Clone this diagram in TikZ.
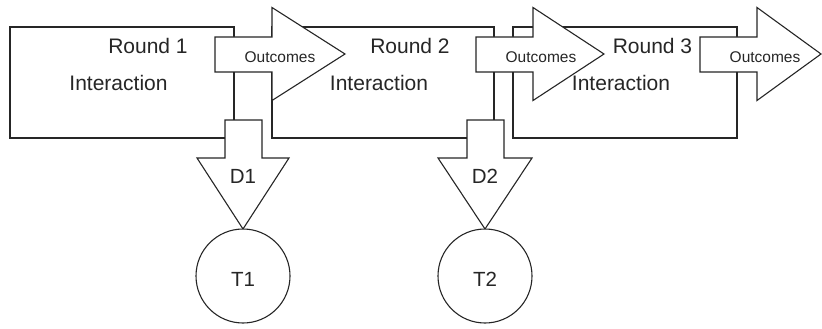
\documentclass[tikz,border=0pt]{standalone}
\usepackage{fontspec}
\setmainfont{Liberation Sans}
\begin{document}
\begin{tikzpicture}[x=1pt,y=-1pt,
  ln/.style={draw=black!85, line width=1.1pt, line join=miter},
  roundbox/.style={ln, fill=white, rectangle, inner sep=0pt},
  blockarrow/.style={ln, fill=white},
  bigtxt/.style={inner sep=0pt, anchor=base, text=black!85, font=\fontsize{21}{24}\selectfont},
  smalltxt/.style={inner sep=0pt, anchor=base, text=black!85, font=\fontsize{15.5}{18}\selectfont},
  midtxt/.style={inner sep=0pt, anchor=base, text=black!85, font=\fontsize{20.5}{24}\selectfont},
  termcircle/.style={ln, fill=white, circle, minimum size=94pt, inner sep=0pt}]
\useasboundingbox (0,0) rectangle (822,329);
% round boxes
\node[roundbox, minimum width=224pt, minimum height=111pt] (r1) at (122,82.5) {};
\node[roundbox, minimum width=222pt, minimum height=111pt] (r2) at (383,82.5) {};
\node[roundbox, minimum width=224pt, minimum height=111pt] (r3) at (625,82.5) {};
% decision arrows
\draw[blockarrow] (225,120) -- (262,120) -- (262,158) -- (289,158) -- (243,229) -- (197,158) -- (225,158) -- cycle;
\draw[blockarrow] (467,120) -- (504,120) -- (504,158) -- (532,158) -- (485,229) -- (438,158) -- (467,158) -- cycle;
% outcome arrows
\draw[blockarrow] (215,37) -- (272,37) -- (272,7.5) -- (345,54) -- (272,100.5) -- (272,72) -- (215,72) -- cycle;
\draw[blockarrow] (476,37) -- (533,37) -- (533,7.5) -- (604,54) -- (533,100.5) -- (533,72) -- (476,72) -- cycle;
\draw[blockarrow] (700,37) -- (757,37) -- (757,7.5) -- (821,54) -- (757,100.5) -- (757,72) -- (700,72) -- cycle;
% terminal circles
\node[termcircle] (t1) at (243,276) {};
\node[termcircle] (t2) at (485,276) {};
% texts
\node[bigtxt] (r1a) at (148,54) {Round 1};
\node[bigtxt] (r1b) at (118.5,91) {Interaction};
\node[bigtxt] (r2a) at (410,53.5) {Round 2};
\node[bigtxt] (r2b) at (379,91) {Interaction};
\node[bigtxt] (r3a) at (652.5,53.5) {Round 3};
\node[bigtxt] (r3b) at (621,91) {Interaction};
\node[smalltxt] (o1) at (280,63) {Outcomes};
\node[smalltxt] (o2) at (541,63) {Outcomes};
\node[smalltxt] (o3) at (765,63) {Outcomes};
\node[midtxt] (d1) at (243,183) {D1};
\node[midtxt] (d2) at (485,183) {D2};
\node[midtxt] (t1l) at (243,286) {T1};
\node[midtxt] (t2l) at (485,286) {T2};
\end{tikzpicture}
\end{document}
